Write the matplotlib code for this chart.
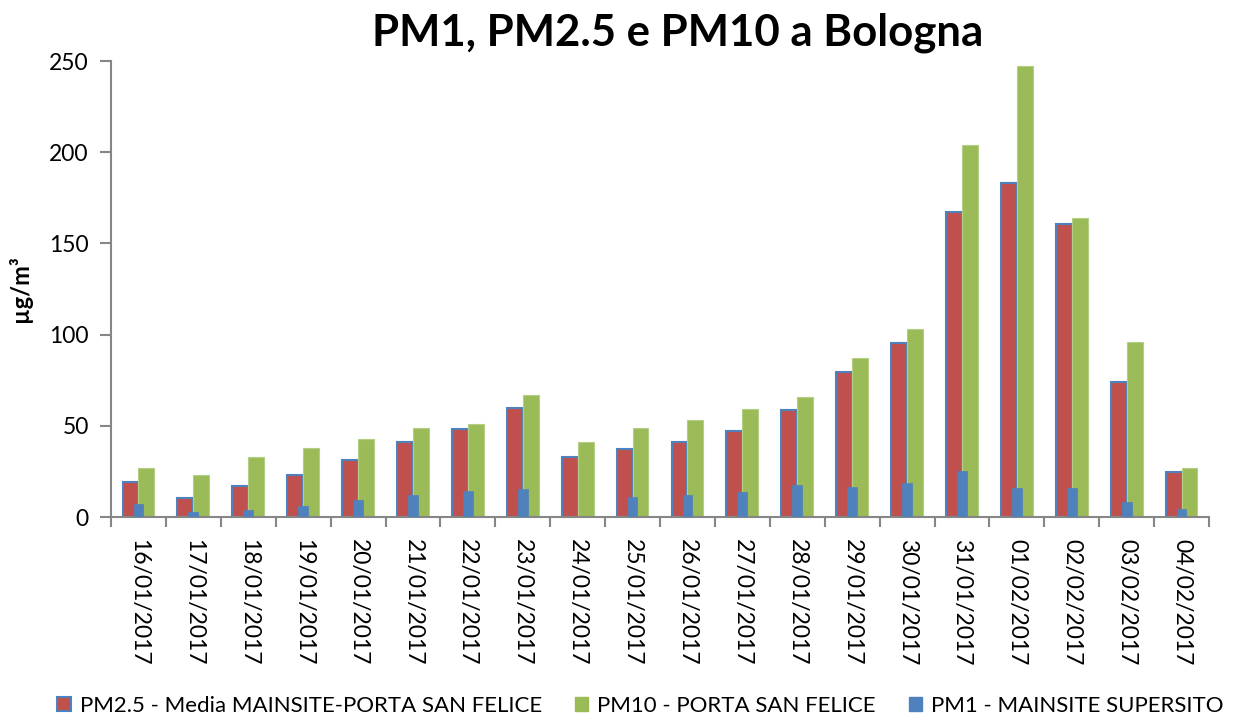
import matplotlib
matplotlib.use("Agg")
import matplotlib.pyplot as plt
import numpy as np
from matplotlib.patches import Patch

dates = ["16/01/2017", "17/01/2017", "18/01/2017", "19/01/2017", "20/01/2017",
         "21/01/2017", "22/01/2017", "23/01/2017", "24/01/2017", "25/01/2017",
         "26/01/2017", "27/01/2017", "28/01/2017", "29/01/2017", "30/01/2017",
         "31/01/2017", "01/02/2017", "02/02/2017", "03/02/2017", "04/02/2017"]
pm25 = [19, 10.5, 17, 23, 31, 41, 48, 60, 33, 37.5, 41, 47, 58.5, 79.5, 95.5, 167, 183, 160.5, 74, 24.5]
pm10 = [27, 23, 33, 38, 43, 49, 51, 67, 41, 49, 53, 59, 66, 87, 103, 204, 247, 164, 96, 27]
pm1 = [7, 2.6, 4, 6, 9.2, 12, 14, 15.4, 0, 10.8, 12, 13.7, 17.7, 16.4, 18.5, 25.4, 15.7, 16.1, 8.4, 4.2]

RED = "#C0504D"
GREEN = "#9BBB59"
BLUE = "#4F81BD"
AXIS = "#868686"

plt.rcParams['font.family'] = ['Lato', 'DejaVu Sans']

fig = plt.figure(figsize=(12.39, 7.17), dpi=100)
ax = fig.add_axes([111/1239, 200/717, 1098/1239, 456/717])

x = np.arange(len(dates))
w = 0.29
ax.bar(x - 0.145, pm25, width=w, color=RED, edgecolor=BLUE, linewidth=1.5, zorder=2)
ax.bar(x + 0.145, pm10, width=w, color=GREEN, edgecolor="#B3CF85", linewidth=0.8, zorder=2)
ax.bar(x, pm1, width=0.18, color=BLUE, edgecolor=BLUE, linewidth=0.5, zorder=3)

ax.set_xlim(-0.5, len(dates) - 0.5)
ax.set_ylim(0, 250)
ax.set_yticks([0, 50, 100, 150, 200, 250])
ax.set_xticks(x)
ax.set_xticklabels(dates, rotation=270, fontsize=16.5)
ax.set_xticks(np.arange(-0.5, len(dates), 1.0), minor=True)
ax.tick_params(axis='x', which='major', length=0, pad=16)
ax.tick_params(axis='x', which='minor', length=7, width=1.5, color=AXIS, direction='out')
ax.tick_params(axis='y', length=8, width=1.5, color=AXIS, direction='out', labelsize=16.5, pad=8)

for s in ['top', 'right']:
    ax.spines[s].set_visible(False)
for s in ['left', 'bottom']:
    ax.spines[s].set_color(AXIS)
    ax.spines[s].set_linewidth(1.5)

ax.set_ylabel("µg/m³", fontsize=17, fontweight='bold', labelpad=12)
fig.text(0.547, 0.955, "PM1, PM2.5 e PM10 a Bologna", fontsize=31.5, fontweight='bold',
         ha='center', va='center')

handles = [Patch(facecolor=RED, edgecolor=BLUE, linewidth=1.5),
           Patch(facecolor=GREEN, edgecolor=GREEN),
           Patch(facecolor=BLUE, edgecolor=BLUE)]
labels = ["PM2.5 - Media MAINSITE-PORTA SAN FELICE", "PM10 - PORTA SAN FELICE",
          "PM1 - MAINSITE SUPERSITO"]
fig.legend(handles, labels, loc='center', bbox_to_anchor=(0.517, 0.016), ncol=3,
           frameon=False, fontsize=16, handlelength=0.6, handleheight=0.6,
           handletextpad=0.4, columnspacing=1.5)

fig.savefig("out.png", dpi=100)
